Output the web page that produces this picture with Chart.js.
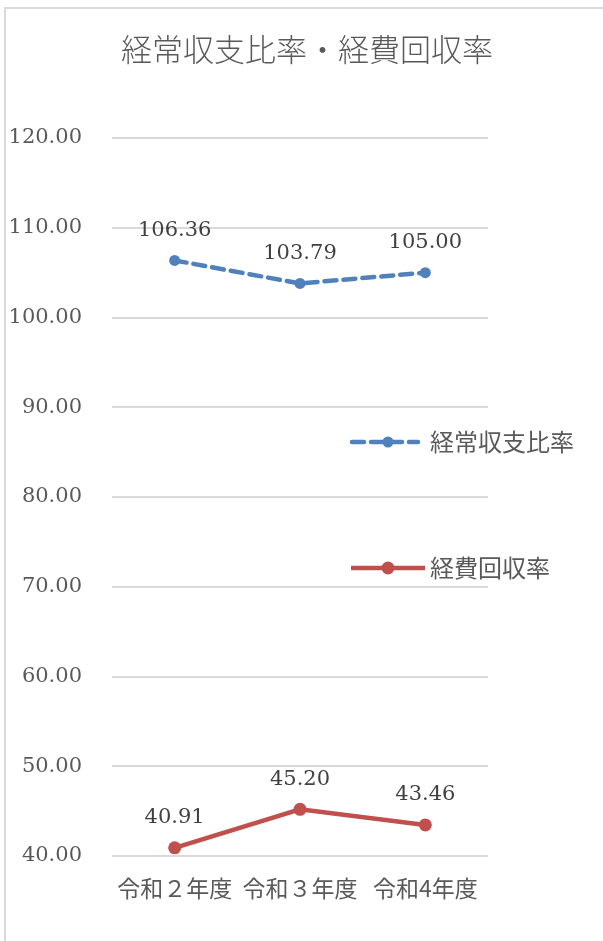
<!DOCTYPE html>
<html>
<head>
<meta charset="utf-8">
<script src="https://cdn.jsdelivr.net/npm/chart.js@4"></script>
<style>
    html, body { margin: 0; padding: 0; background: #fff; overflow: hidden; }
    #wrap { position: relative; width: 603px; height: 941px; }
    #frame { position: absolute; left: 4px; top: 7px; width: 700px; height: 1000px; border: 2px solid #d9d9d9; box-sizing: border-box; }
    canvas { position: absolute; left: 0; top: 0; }
</style>
</head>
<body>
<div id="wrap">
    <div id="frame"></div>
    <canvas id="myChart" width="603" height="941"></canvas>
</div>
<script>
'use strict';

const chartTitle = '経常収支比率・経費回収率';
const categories = ['令和２年度', '令和３年度', '令和4年度'];
const seriesNames = ['経常収支比率', '経費回収率'];
const ratioValues = [106.36, 103.79, 105.00];
const recoveryValues = [40.91, 45.20, 43.46];
const yTicks = [40, 50, 60, 70, 80, 90, 100, 110, 120];

const BLUE = '#4F81BD';
const RED = '#C0504D';
const TEXT = '#595959';
const NUM_FONT = '"DejaVu Serif", "Liberation Serif", serif';
const JP_FONT = '"Noto Sans CJK JP", "Noto Sans", sans-serif';

// title, value labels and the side legend are drawn by hand
const decorations = {
    'id': 'decorations',
    'afterDatasetsDraw': function(chart) {
        const ctx = chart.ctx;
        ctx.save();

        ctx.fillStyle = TEXT;
        ctx.font = '300 31px ' + JP_FONT;
        ctx.textAlign = 'center';
        ctx.textBaseline = 'middle';
        ctx.fillText(chartTitle, 307, 49);

        ctx.fillStyle = '#404040';
        ctx.font = '21px ' + NUM_FONT;
        chart.data.datasets.forEach((ds, i) => {
            chart.getDatasetMeta(i).data.forEach((pt, j) => {
                ctx.fillText(ds.data[j].toFixed(2), pt.x, pt.y - 30);
            });
        });

        const rows = [
            {'y': 442, 'color': BLUE, 'dash': [12, 7], 'x0': 352, 'x1': 418, 'r': 5.5},
            {'y': 568, 'color': RED, 'dash': [], 'x0': 351, 'x1': 425, 'r': 6.5}
        ];
        rows.forEach((row, i) => {
            ctx.strokeStyle = row.color;
            ctx.lineWidth = 4.5;
            ctx.lineCap = row.dash.length ? 'round' : 'butt';
            ctx.setLineDash(row.dash);
            ctx.beginPath();
            ctx.moveTo(row.x0, row.y);
            ctx.lineTo(row.x1, row.y);
            ctx.stroke();
            ctx.setLineDash([]);
            ctx.fillStyle = row.color;
            ctx.beginPath();
            ctx.arc(388, row.y, row.r, 0, Math.PI * 2);
            ctx.fill();
            ctx.fillStyle = TEXT;
            ctx.font = '24px ' + JP_FONT;
            ctx.textAlign = 'left';
            ctx.fillText(seriesNames[i], 430, row.y);
        });

        ctx.restore();
    }
};

const ctx = document.getElementById('myChart').getContext('2d');
const chart = new Chart(ctx, {
    'type': 'line',
    'data': {
        'labels': categories,
        'datasets': [
            {
                'label': seriesNames[0],
                'data': ratioValues,
                'borderColor': BLUE,
                'backgroundColor': BLUE,
                'borderWidth': 4.5,
                'borderDash': [12, 7],
                'borderCapStyle': 'round',
                'pointRadius': 5.5,
                'pointBorderWidth': 0,
                'tension': 0
            },
            {
                'label': seriesNames[1],
                'data': recoveryValues,
                'borderColor': RED,
                'backgroundColor': RED,
                'borderWidth': 4.5,
                'pointRadius': 6.5,
                'pointBorderWidth': 0,
                'tension': 0
            }
        ]
    },
    'options': {
        'responsive': false,
        'animation': false,
        'layout': {
            'padding': {'top': 138, 'right': 115, 'bottom': 0, 'left': 0}
        },
        'plugins': {
            'legend': {'display': false},
            'title': {'display': false},
            'tooltip': {'enabled': false}
        },
        'scales': {
            'x': {
                'offset': true,
                'grid': {'display': false, 'drawTicks': false},
                'border': {'display': false},
                'ticks': {
                    'color': TEXT,
                    'font': {'family': JP_FONT, 'size': 23},
                    'padding': 18,
                    'maxRotation': 0
                },
                'afterFit': function(scale) { scale.height = 85; }
            },
            'y': {
                'min': 40,
                'max': 120,
                'afterBuildTicks': function(scale) {
                    scale.ticks = yTicks.map(v => ({'value': v}));
                },
                'grid': {'color': '#d9d9d9', 'lineWidth': 2, 'drawTicks': false},
                'border': {'display': false},
                'ticks': {
                    'color': TEXT,
                    'font': {'family': NUM_FONT, 'size': 21},
                    'padding': 30,
                    'callback': v => Number(v).toFixed(2)
                },
                'afterFit': function(scale) { scale.width = 112; }
            }
        }
    },
    'plugins': [decorations]
});
</script>
</body>
</html>
